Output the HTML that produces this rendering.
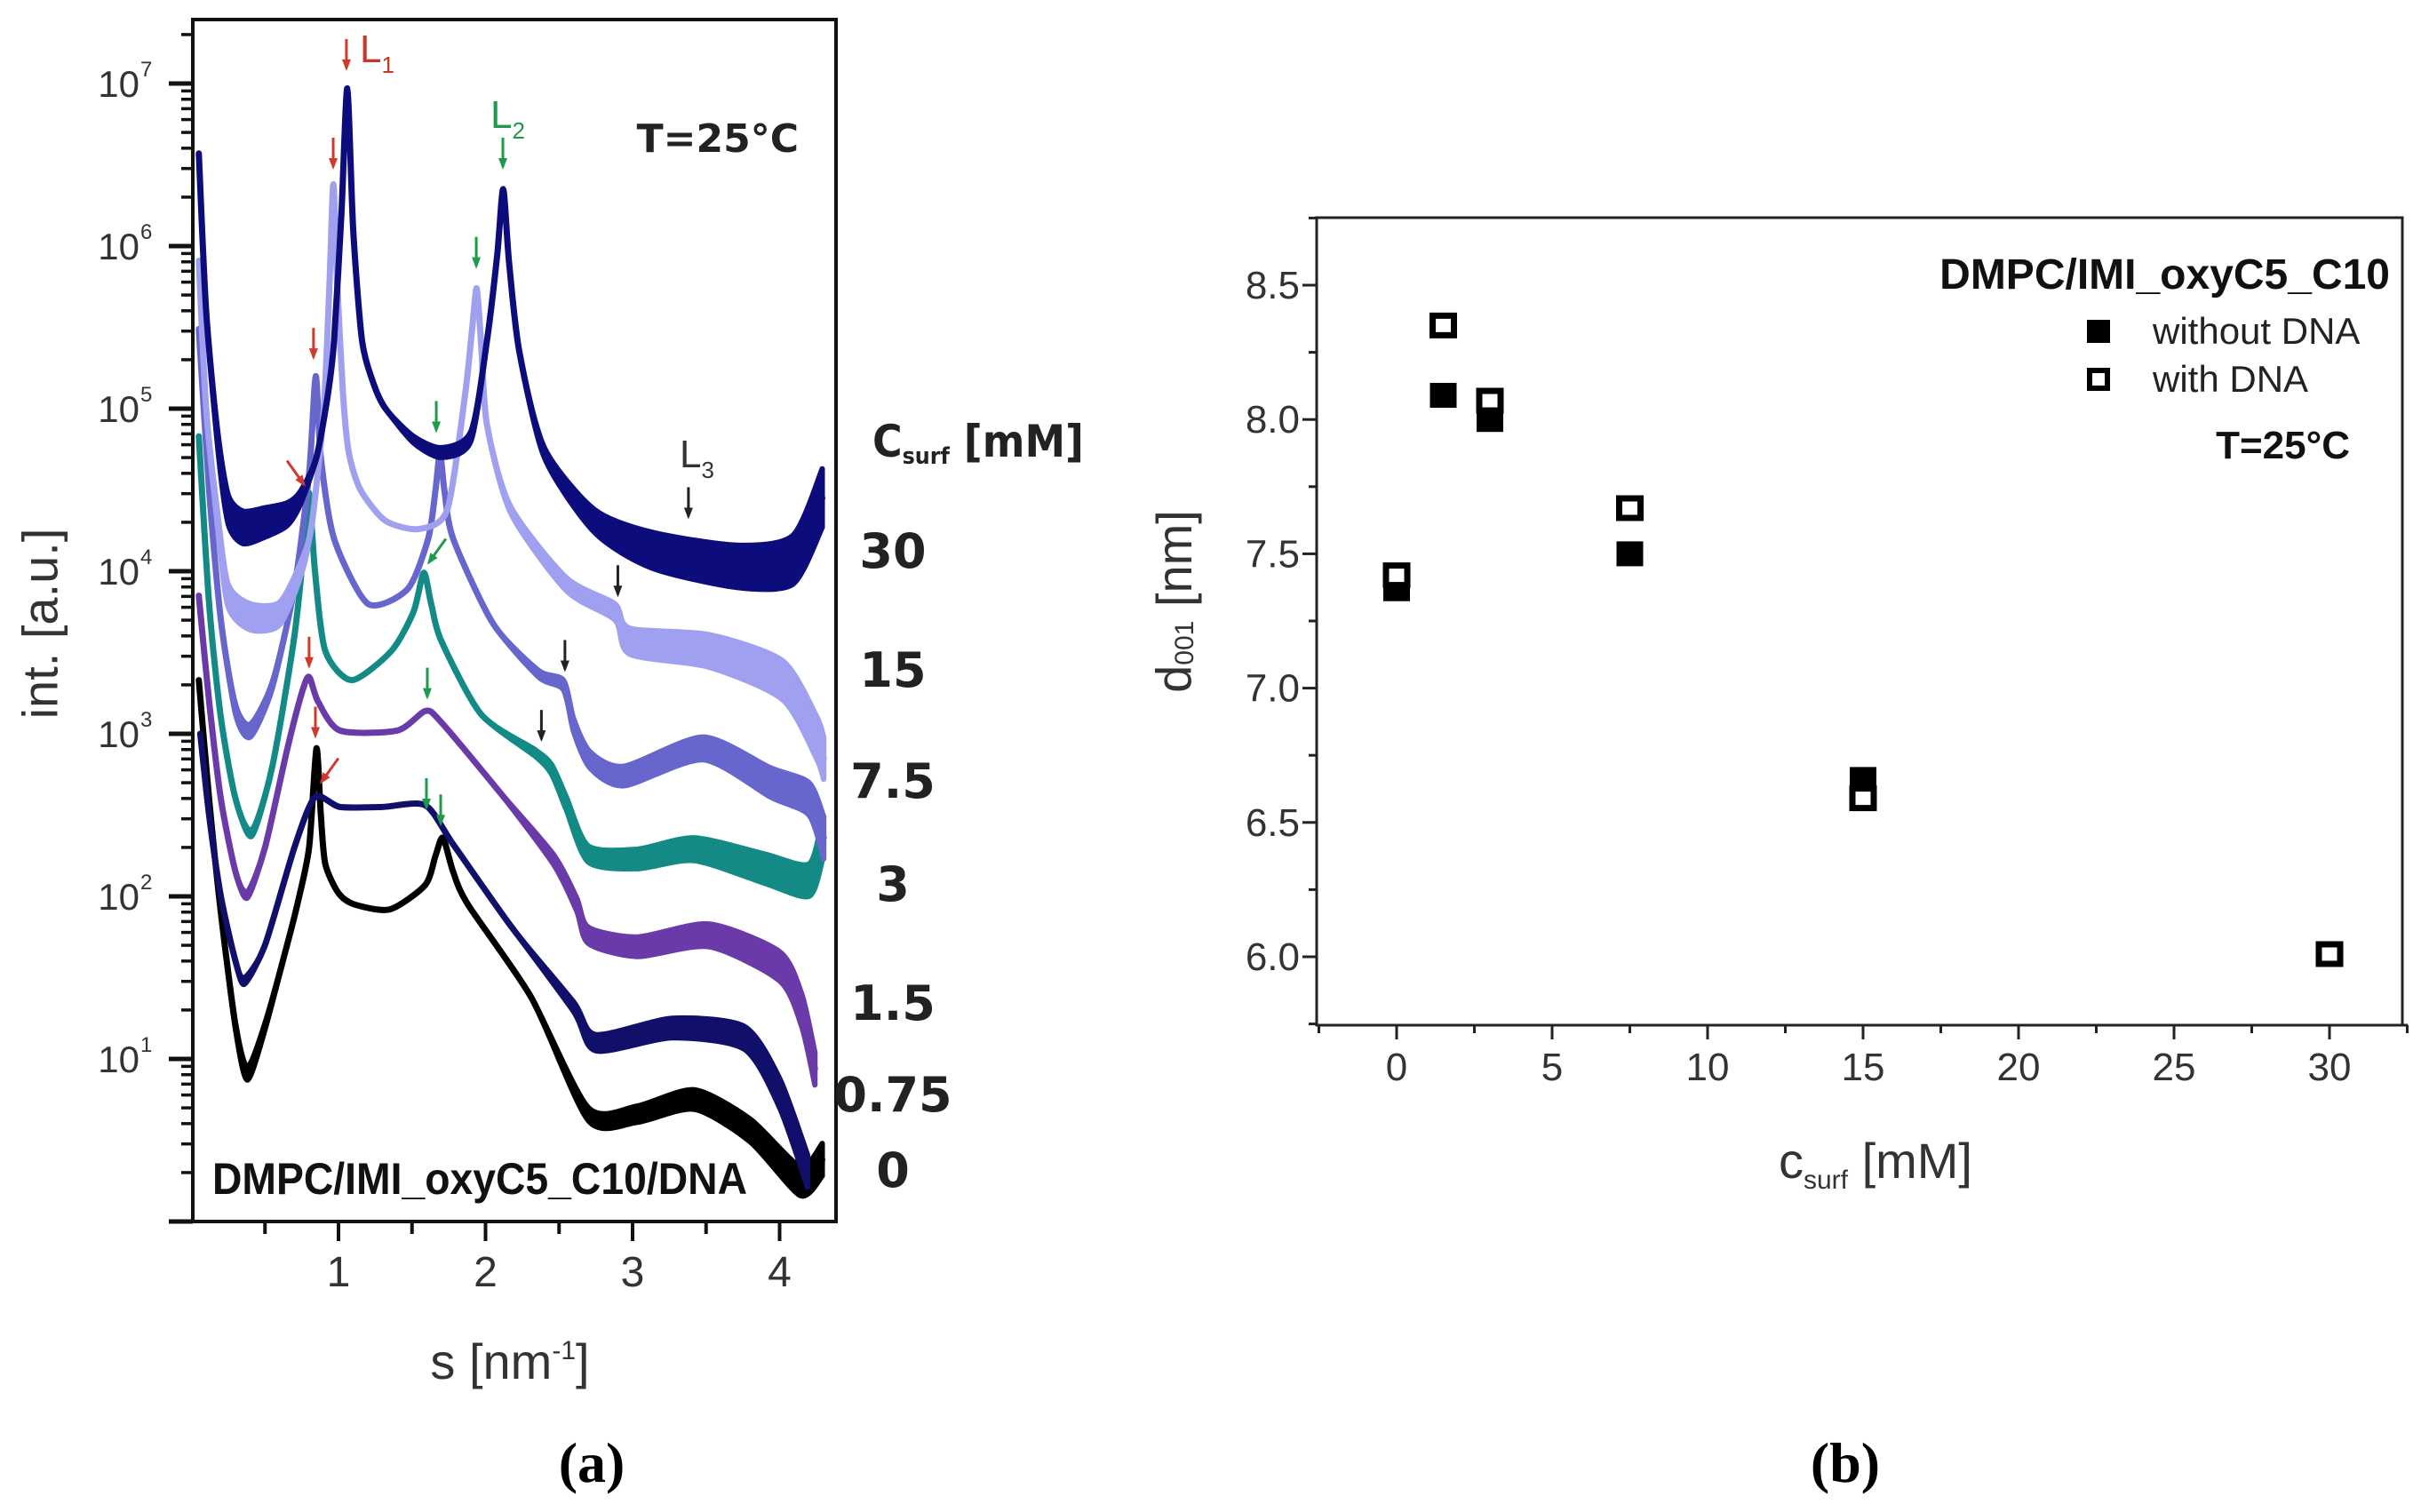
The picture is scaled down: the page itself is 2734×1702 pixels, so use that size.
<!DOCTYPE html>
<html><head><meta charset="utf-8"><style>
html,body{margin:0;padding:0;background:#fff}
svg{display:block}
</style></head><body>
<svg id="fig" xmlns="http://www.w3.org/2000/svg" width="2734" height="1702" viewBox="0 0 2734 1702">
<rect width="2734" height="1702" fill="#fff"/>
<defs><clipPath id="clipA"><rect x="217" y="22" width="724" height="1353"/></clipPath></defs>
<g id="panelA">
  <g id="curvesA" clip-path="url(#clipA)"></g>
  <g id="arrowsA"></g>
  <rect x="217" y="22" width="724" height="1353" fill="none" stroke="#111" stroke-width="4"/>
  <g id="axesA"></g>
  <text x="45" y="702" transform="rotate(-90 45 702)" text-anchor="middle" dominant-baseline="central" font-family="Liberation Sans, sans-serif" font-size="56" fill="#333">int. [a.u.]</text>
  <text x="574" y="1552" text-anchor="middle" font-family="Liberation Sans, sans-serif" font-size="56" fill="#333">s [nm<tspan dy="-22" font-size="30">-1</tspan><tspan dy="22">]</tspan></text>
  <text x="899" y="171" text-anchor="end" font-family="DejaVu Sans, sans-serif" font-weight="bold" font-size="44" fill="#222">T=25°C</text>
  <text x="239" y="1344" textLength="602" lengthAdjust="spacingAndGlyphs" font-family="Liberation Sans, sans-serif" font-weight="bold" font-size="50" fill="#111">DMPC/IMI_oxyC5_C10/DNA</text>
  <text x="405" y="70" font-family="Liberation Sans, sans-serif" font-size="44" fill="#c0392b">L<tspan dy="12" font-size="26">1</tspan></text>
  <text x="552" y="144" font-family="Liberation Sans, sans-serif" font-size="44" fill="#1e9a4a">L<tspan dy="12" font-size="26">2</tspan></text>
  <text x="765" y="526" font-family="Liberation Sans, sans-serif" font-size="44" fill="#333">L<tspan dy="12" font-size="26">3</tspan></text>
  <text x="982" y="514" textLength="238" lengthAdjust="spacingAndGlyphs" font-family="DejaVu Sans, sans-serif" font-weight="bold" font-size="50" fill="#222">C<tspan dy="8" font-size="26">surf</tspan><tspan dy="-8"> [mM]</tspan></text>
  <g id="concLabels"></g>
  <text x="666" y="1668" text-anchor="middle" font-family="Liberation Serif, serif" font-weight="bold" font-size="64" fill="#000">(a)</text>
</g>
<g id="panelB">
  <rect x="1482" y="245" width="1222" height="909" fill="none" stroke="#222" stroke-width="3"/>
  <g id="axesB"></g>
  <g id="pointsB"></g>
  <text x="1321" y="677" transform="rotate(-90 1321 677)" text-anchor="middle" dominant-baseline="central" font-family="Liberation Sans, sans-serif" font-size="56" fill="#333">d<tspan dy="12" font-size="30">001</tspan><tspan dy="-12"> [nm]</tspan></text>
  <text x="2111" y="1326" text-anchor="middle" font-family="Liberation Sans, sans-serif" font-size="56" fill="#333">c<tspan dy="12" font-size="30">surf</tspan><tspan dy="-12"> [mM]</tspan></text>
  <text x="2690" y="325" text-anchor="end" font-family="Liberation Sans, sans-serif" font-weight="bold" font-size="48" fill="#111">DMPC/IMI_oxyC5_C10</text>
  <rect x="2349" y="360" width="26" height="26" fill="#000"/>
  <text x="2423" y="387" font-family="Liberation Sans, sans-serif" font-size="42" fill="#222">without DNA</text>
  <rect x="2352" y="417" width="20" height="20" fill="#fff" stroke="#000" stroke-width="6"/>
  <text x="2423" y="441" font-family="Liberation Sans, sans-serif" font-size="42" fill="#222">with DNA</text>
  <text x="2645" y="516" text-anchor="end" font-family="Liberation Sans, sans-serif" font-weight="bold" font-size="44" fill="#111">T=25°C</text>
  <text x="2077" y="1668" text-anchor="middle" font-family="Liberation Serif, serif" font-weight="bold" font-size="64" fill="#000">(b)</text>
</g>
</svg>
<script>
// ---------- Panel (a) data ----------
const concNames = ["0","0.75","1.5","3","7.5","15","30"];
const concLabelY = [1316,1231,1128,994,878,753,619];
const colors = ["#000000","#10106a","#6a3aa8","#138a86","#6666cc","#a0a0f0","#0c0c7c"];
const s0 = [0.05,0.12,0.2,0.3,0.38,0.5,0.65,0.72,0.80,0.85,0.88,0.91,1.0,1.11,1.35,1.59,1.66,1.71,1.78,1.88,2.31,2.70,3.03,3.42,3.80,4.14,4.29];
const i0 = [3.33,2.6,1.9,1.2,0.91,1.2,1.7,1.95,2.3,2.91,2.5,2.20,2.02,1.95,1.92,2.07,2.25,2.36,2.15,1.95,1.38,0.66,0.66,0.75,0.56,0.25,0.38];
const n0 = [0,0,0,0.02,0.04,0.02,0,0,0,0,0,0,0,0,0,0,0,0,0,0,0,0.04,0.05,0.06,0.07,0.09,0.1];
const s075 = [0.06,0.12,0.2,0.3,0.36,0.5,0.7,0.84,1.01,1.3,1.59,1.78,2.17,2.60,2.75,3.27,3.76,4.0,4.19];
const i075 = [3.0,2.5,2.0,1.6,1.48,1.7,2.3,2.61,2.55,2.55,2.56,2.32,1.82,1.32,1.10,1.19,1.13,0.79,0.31];
const n075 = [0,0,0,0,0.02,0,0,0,0,0,0,0,0,0.03,0.05,0.06,0.07,0.09,0.1];
const s15 = [0.05,0.12,0.2,0.3,0.38,0.5,0.65,0.75,0.80,0.86,1.01,1.40,1.59,1.69,2.07,2.46,2.62,2.70,3.03,3.52,4.0,4.15,4.24];
const i15 = [3.85,3.2,2.6,2.15,2.01,2.3,2.9,3.25,3.35,3.2,3.02,3.02,3.14,3.08,2.67,2.23,1.95,1.76,1.69,1.76,1.57,1.3,0.94];
const n15 = [0,0,0,0,0.02,0,0,0,0,0,0,0,0,0,0,0.03,0.04,0.05,0.06,0.07,0.09,0.1,0.1];
const s3 = [0.05,0.12,0.2,0.3,0.41,0.55,0.7,0.77,0.80,0.84,0.91,1.09,1.36,1.51,1.58,1.63,1.70,1.97,2.34,2.45,2.55,2.70,3.03,3.42,3.90,4.2,4.29];
const i3 = [4.83,3.8,3.1,2.6,2.39,2.8,3.6,4.2,4.48,4.0,3.51,3.33,3.51,3.75,3.99,3.8,3.57,3.12,2.88,2.78,2.57,2.26,2.23,2.29,2.17,2.1,2.35];
const n3 = [0,0,0,0,0.02,0,0,0,0,0,0,0,0,0,0,0,0,0,0.02,0.03,0.04,0.05,0.06,0.07,0.09,0.1,0.13];
const s75 = [0.05,0.12,0.2,0.3,0.4,0.55,0.7,0.8,0.845,0.88,0.97,1.2,1.47,1.61,1.66,1.69,1.72,1.78,2.05,2.36,2.53,2.6,2.71,2.94,3.48,3.94,4.2,4.3];
const i75 = [5.49,4.5,3.7,3.15,3.02,3.3,3.9,4.6,5.20,4.7,4.20,3.80,3.89,4.20,4.5,4.73,4.5,4.20,3.68,3.37,3.30,3.05,2.84,2.74,2.91,2.70,2.6,2.36];
const n75 = [0,0,0,0.03,0.04,0.02,0,0,0,0,0,0,0,0,0,0,0,0,0,0.02,0.03,0.04,0.05,0.06,0.07,0.09,0.1,0.13];
const s150 = [0.05,0.1,0.18,0.25,0.4,0.6,0.75,0.82,0.9,0.94,0.965,0.99,1.03,1.07,1.15,1.32,1.55,1.74,1.86,1.91,1.94,1.97,2.01,2.17,2.55,2.88,2.98,3.52,4.02,4.25,4.3];
const i150 = [5.91,5.0,4.3,3.85,3.72,3.74,4.03,4.3,5.0,5.8,6.38,5.8,5.1,4.73,4.5,4.31,4.26,4.38,5.08,5.5,5.74,5.4,4.90,4.38,3.92,3.75,3.57,3.51,3.33,2.98,2.85];
const n150 = [0,0,0.05,0.07,0.08,0.07,0.04,0,0,0,0,0,0,0,0,0,0,0,0,0,0,0,0,0.02,0.04,0.05,0.08,0.1,0.12,0.13,0.13];
const s300 = [0.05,0.1,0.18,0.25,0.35,0.5,0.65,0.74,0.85,0.93,0.97,1.02,1.06,1.1,1.16,1.24,1.32,1.51,1.70,1.9,2.01,2.08,2.12,2.16,2.23,2.4,2.74,3.13,3.71,4.09,4.29];
const i300 = [6.57,5.6,4.8,4.38,4.27,4.3,4.35,4.45,4.7,5.1,5.42,6.2,6.97,6.1,5.42,5.15,5.0,4.81,4.73,4.83,5.42,5.95,6.35,5.9,5.35,4.73,4.31,4.13,4.03,4.07,4.45];
const n300 = [0,0,0.05,0.09,0.1,0.09,0.07,0.04,0,0,0,0,0,0,0,0,0,0.02,0.03,0.03,0,0,0,0,0,0.03,0.07,0.11,0.13,0.15,0.18];
const arrowS = [1.054,0.964,0.83,0.776,0.80,0.843,0.873, 2.118,1.937,1.665,1.604,1.604,1.598,1.695, 3.38,2.90,2.54,2.38];
const arrowI = [7.077,6.47,5.30,4.52,3.40,2.97,2.69, 6.47,5.86,4.85,4.04,3.21,2.53,2.43, 4.32,3.84,3.38,2.95];
const arrowDir = [0,0,0,-1,0,0,1, 0,0,0,1,0,0,0, 0,0,0,0];
const arrowCol = ["#d03a2a","#d03a2a","#d03a2a","#d03a2a","#d03a2a","#d03a2a","#d03a2a","#1e9a4a","#1e9a4a","#1e9a4a","#1e9a4a","#1e9a4a","#1e9a4a","#1e9a4a","#222","#222","#222","#222"];
const xTicksA = [1,2,3,4];
const xMinorA = [0.5,1.5,2.5,3.5];
const yDecades = [1,2,3,4,5,6,7];

// ---------- Panel (b) data ----------
const cB = [0,1.5,3,7.5,15,30];
const dWithout = [7.37,8.09,8.0,7.5,6.66,6.01];
const dWith = [7.42,8.35,8.07,7.67,6.59,6.01];
const xTicksB = [0,5,10,15,20,25,30];
const yTicksB = [6.0,6.5,7.0,7.5,8.0,8.5];
const yTickLabelsB = ["6.0","6.5","7.0","7.5","8.0","8.5"];

const NS="http://www.w3.org/2000/svg";
function mk(tag, attrs, parent){const e=document.createElementNS(NS,tag);for(const k in attrs)e.setAttribute(k,attrs[k]);parent.appendChild(e);return e;}
const xA = s => 215.5 + s*165.5;
const yA = l => 94 + (7-l)*183;
function spline(P){
  let d='M'+P[0][0]+','+P[0][1];
  const k=1/8;
  for(let i=0;i<P.length-1;i++){
    const p0=P[Math.max(0,i-1)],p1=P[i],p2=P[i+1],p3=P[Math.min(P.length-1,i+2)];
    const c1=[p1[0]+(p2[0]-p0[0])*k,p1[1]+(p2[1]-p0[1])*k];
    const c2=[p2[0]-(p3[0]-p1[0])*k,p2[1]-(p3[1]-p1[1])*k];
    d+=` C${c1[0]},${c1[1]} ${c2[0]},${c2[1]} ${p2[0]},${p2[1]}`;
  }
  return d;
}

const curves=[[s0,i0,n0],[s075,i075,n075],[s15,i15,n15],[s3,i3,n3],[s75,i75,n75],[s150,i150,n150],[s300,i300,n300]];
const gC=document.getElementById('curvesA');
curves.forEach((c,k)=>{
  const [s,l,n]=c;
  const up=s.map((v,i)=>[xA(v),yA(l[i]+n[i])]);
  const dn=s.map((v,i)=>[xA(v),yA(l[i]-n[i])]).reverse();
  const dd=spline(up)+' L'+spline(dn).slice(1)+' Z';
  const band=mk('path',{d:dd,fill:colors[k],stroke:colors[k],'stroke-width':6,'stroke-linejoin':'round'},gC);
  
  
  const pl=mk('path',{d:spline(s.map((v,i)=>[xA(v),yA(l[i])])),fill:'none',stroke:colors[k],'stroke-width':7,'stroke-linejoin':'round','stroke-linecap':'round'},gC);
  
  
});
const gAr=document.getElementById('arrowsA');
arrowS.forEach((s,i)=>{
  const tx=xA(s), ty=yA(arrowI[i]);
  const d=arrowDir[i];
  const L=36;
  let ux=0,uy=1;
  if(d===-1){ux=0.58;uy=0.81;} if(d===1){ux=-0.58;uy=0.81;}
  const g=mk('g',{},gAr);
  
  
  mk('line',{x1:tx-ux*L,y1:ty-uy*L,x2:tx-ux*3,y2:ty-uy*3,stroke:arrowCol[i],'stroke-width':3},g);
  const px=-uy,py=ux;
  mk('polygon',{points:`${tx},${ty} ${tx-ux*13+px*5},${ty-uy*13+py*5} ${tx-ux*13-px*5},${ty-uy*13-py*5}`,fill:arrowCol[i]},g);
});
const gAx=document.getElementById('axesA');
mk('line',{x1:191,y1:1375,x2:943,y2:1375,stroke:'#111','stroke-width':4},gAx);
xTicksA.forEach(t=>{
  const tk=mk('line',{x1:xA(t),y1:1375,x2:xA(t),y2:1397,stroke:'#111','stroke-width':4},gAx);
  
  
  const lb=mk('text',{x:xA(t),y:1448,'text-anchor':'middle','font-family':'Liberation Sans, sans-serif','font-size':48,fill:'#333'},gAx);
  lb.textContent=String(t);
  
  
});
xMinorA.forEach(t=>{mk('line',{x1:xA(t),y1:1375,x2:xA(t),y2:1389,stroke:'#111','stroke-width':4},gAx);});
for(let dec=0;dec<=7;dec++){
  for(let m=1;m<=9;m++){
    const l=dec+Math.log10(m);
    const y=yA(l);
    if(y<22||y>1375)continue;
    mk('line',{x1:m===1?190:204,y1:y,x2:217,y2:y,stroke:'#111','stroke-width':m===1?5:3.5},gAx);
  }
}
yDecades.forEach(d=>{
  const t=mk('text',{x:157,y:yA(d)+15,'text-anchor':'end','font-family':'Liberation Sans, sans-serif','font-size':42,fill:'#333'},gAx);
  t.textContent='10';
  
  
  const sp=mk('text',{x:158,y:yA(d)-8,'font-family':'Liberation Sans, sans-serif','font-size':24,fill:'#333'},gAx);
  sp.textContent=String(d);
});
const gCL=document.getElementById('concLabels');
concNames.forEach((c,i)=>{
  const t=mk('text',{x:1005,y:concLabelY[i]+20,'text-anchor':'middle','font-family':'DejaVu Sans, sans-serif','font-weight':'bold','font-size':54,fill:'#222'},gCL);
  t.textContent=c;
  
  
});

// ---------- Panel (b) ----------
const xB = c => 1572 + c*35;
const yB = d => 321 + (8.5-d)*302.4;
const gBx=document.getElementById('axesB');
mk('line',{x1:1482,y1:1154,x2:2710,y2:1154,stroke:'#222','stroke-width':3},gBx);
xTicksB.forEach(t=>{
  mk('line',{x1:xB(t),y1:1154,x2:xB(t),y2:1170,stroke:'#222','stroke-width':3},gBx);
  mk('line',{x1:xB(t+2.5),y1:1154,x2:xB(t+2.5),y2:1163,stroke:'#222','stroke-width':3},gBx);
  const lb=mk('text',{x:xB(t),y:1216,'text-anchor':'middle','font-family':'Liberation Sans, sans-serif','font-size':44,fill:'#333'},gBx);
  lb.textContent=String(t);
  
  
});
mk('line',{x1:xB(-2.5),y1:1154,x2:xB(-2.5),y2:1163,stroke:'#222','stroke-width':3},gBx);
yTicksB.forEach((t,i)=>{
  mk('line',{x1:1466,y1:yB(t),x2:1482,y2:yB(t),stroke:'#222','stroke-width':3},gBx);
  mk('line',{x1:1473,y1:yB(t+0.25),x2:1482,y2:yB(t+0.25),stroke:'#222','stroke-width':3},gBx);
  const lb=mk('text',{x:1463,y:yB(t)+15,'text-anchor':'end','font-family':'Liberation Sans, sans-serif','font-size':44,fill:'#333'},gBx);
  lb.textContent=yTickLabelsB[i];
  
  
});
mk('line',{x1:1473,y1:yB(5.75),x2:1482,y2:yB(5.75),stroke:'#222','stroke-width':3},gBx);
const gP=document.getElementById('pointsB');
cB.forEach((c,i)=>{
  const r=mk('rect',{x:xB(c)-15,y:yB(dWithout[i])-14,width:30,height:28,fill:'#000'},gP);
  
  
});
cB.forEach((c,i)=>{
  const r=mk('rect',{x:xB(c)-12,y:yB(dWith[i])-11,width:24,height:22,fill:'#fff',stroke:'#000','stroke-width':7},gP);
  
  
});
</script>
</body></html>
